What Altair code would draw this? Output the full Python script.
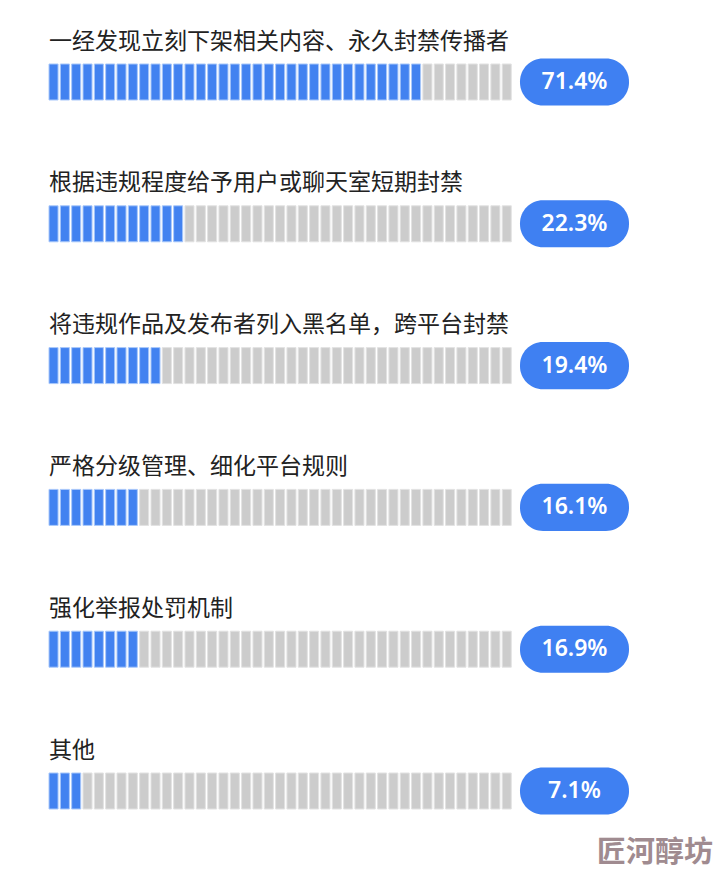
import altair as alt
import pandas as pd

labels = [
    "一经发现立刻下架相关内容、永久封禁传播者",
    "根据违规程度给予用户或聊天室短期封禁",
    "将违规作品及发布者列入黑名单，跨平台封禁",
    "严格分级管理、细化平台规则",
    "强化举报处罚机制",
    "其他",
]
pct_labels = ["71.4%", "22.3%", "19.4%", "16.1%", "16.9%", "7.1%"]
blue_counts = [33, 12, 10, 8, 8, 3]
total_segments = 41
watermark = "匠河醇坊"

W, H = 717, 874
X0, PITCH = 49, 11.33
Y0, ROWSTEP = 82, 141.8

xdom = [-X0 / PITCH, (W - X0) / PITCH]
ydom = [-Y0 / ROWSTEP, (H - Y0) / ROWSTEP]
xs = alt.Scale(domain=xdom, nice=False, zero=False)
ys = alt.Scale(domain=ydom, nice=False, zero=False, reverse=True)

seg_rows = []
for r, n in enumerate(blue_counts):
    for i in range(total_segments):
        seg_rows.append({
            "r": r,
            "i": i,
            "i2": i + 0.80,
            "y1": r - 0.127,
            "y2": r + 0.127,
            "on": "on" if i < n else "off",
        })
seg = pd.DataFrame(seg_rows)

rows = pd.DataFrame({
    "r": list(range(len(labels))),
    "label": labels,
    "pct": pct_labels,
})
rows["ly"] = rows["r"] - 0.285
rows["px1"] = (520 - X0) / PITCH
rows["px2"] = (629 - X0) / PITCH
rows["pxc"] = (574.5 - X0) / PITCH
rows["py1"] = rows["r"] - 0.166
rows["py2"] = rows["r"] + 0.166
rows["lx"] = 0.0

segs = alt.Chart(seg).mark_rect(strokeWidth=1).encode(
    x=alt.X("i:Q", scale=xs, axis=None),
    x2="i2:Q",
    y=alt.Y("y1:Q", scale=ys, axis=None),
    y2="y2:Q",
    color=alt.Color("on:N", scale=alt.Scale(domain=["on", "off"], range=["#4282f0", "#cccccc"]), legend=None),
    stroke=alt.Stroke("on:N", scale=alt.Scale(domain=["on", "off"], range=["#a9c8fa", "#e2e2e2"]), legend=None),
)

label_text = alt.Chart(rows).mark_text(
    align="left", baseline="middle", fontSize=23, font="Noto Sans CJK SC", fontWeight="normal", color="#222222"
).encode(
    x=alt.X("lx:Q", scale=xs, axis=None),
    y=alt.Y("ly:Q", scale=ys, axis=None),
    text="label:N",
)

pill = alt.Chart(rows).mark_rect(cornerRadius=23, color="#3f80f2").encode(
    x=alt.X("px1:Q", scale=xs, axis=None),
    x2="px2:Q",
    y=alt.Y("py1:Q", scale=ys, axis=None),
    y2="py2:Q",
)

pct_text = alt.Chart(rows).mark_text(
    align="center", baseline="middle", fontSize=23, fontWeight=600, font="Noto Sans", color="white"
).encode(
    x=alt.X("pxc:Q", scale=xs, axis=None),
    y=alt.Y("r:Q", scale=ys, axis=None),
    text="pct:N",
)

wm = pd.DataFrame({"t": [watermark], "x": [(655 - X0) / PITCH], "y": [(853 - Y0) / ROWSTEP]})
wm_text = alt.Chart(wm).mark_text(
    align="center", baseline="middle", fontSize=29, fontWeight="bold", font="Noto Sans CJK SC", color="#a08b90"
).encode(
    x=alt.X("x:Q", scale=xs, axis=None),
    y=alt.Y("y:Q", scale=ys, axis=None),
    text="t:N",
)

chart = alt.layer(segs, label_text, pill, pct_text, wm_text).properties(
    width=W, height=H, padding=0, autosize=alt.AutoSizeParams(type="none"), background="white"
).configure_view(stroke=None)

chart.save("out.html", embed_options={"renderer": "svg", "actions": False})
